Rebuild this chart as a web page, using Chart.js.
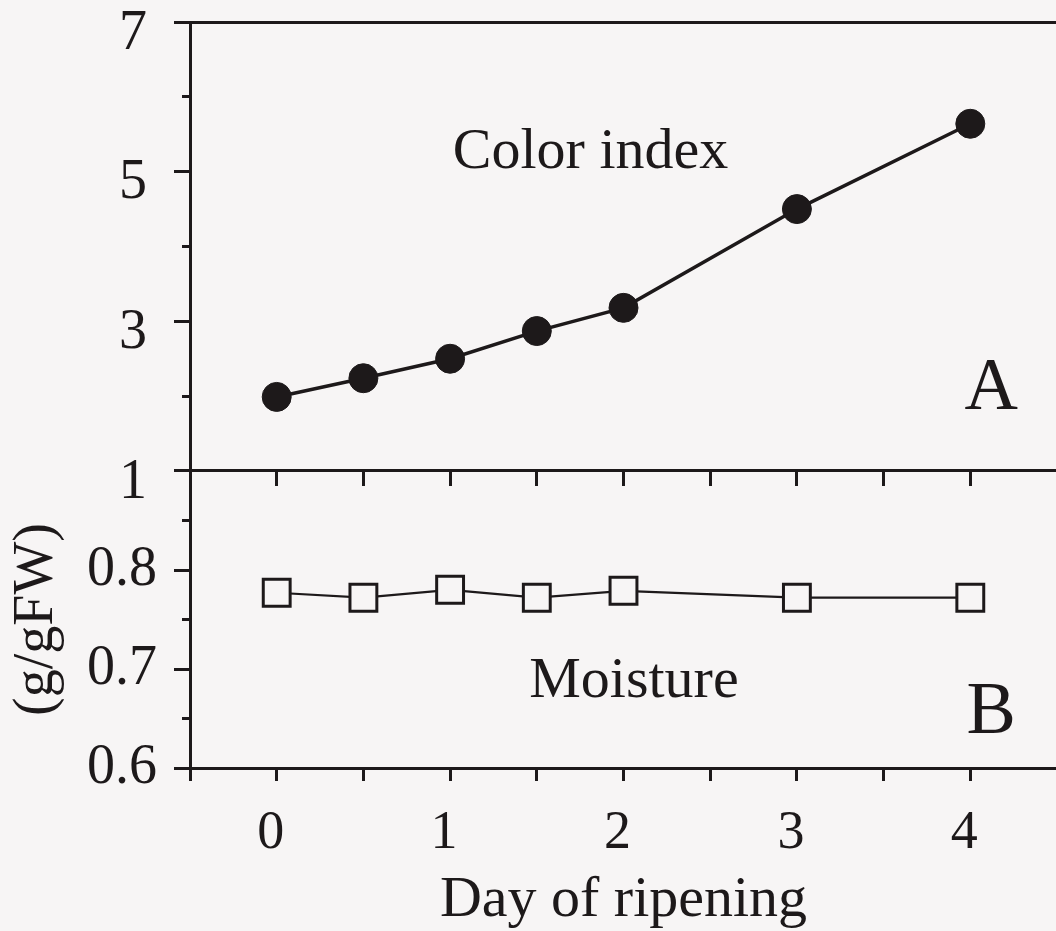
<!DOCTYPE html>
<html>
<head>
<meta charset="utf-8">
<title>Color index and moisture during ripening</title>
<script src="https://cdn.jsdelivr.net/npm/chart.js@4/dist/chart.umd.min.js"></script>
<style>
  html, body { margin: 0; padding: 0; background: #f7f5f5; overflow: hidden; }
  #wrap { position: relative; width: 1056px; height: 931px; overflow: hidden; }
  canvas { display: block; }
</style>
</head>
<body>
<div id="wrap"><canvas id="chart" width="1060" height="931"></canvas></div>
<script>
// Sampling days and measured values
const days = [0, 0.5, 1, 1.5, 2, 3, 4];
const colorIndex = [1.99, 2.24, 2.50, 2.87, 3.18, 4.50, 5.64];
const moisture = [0.777, 0.772, 0.780, 0.772, 0.779, 0.772, 0.772];

// Labelled tick values
const dayTickLabels = [0, 1, 2, 3, 4];
const colorTickLabels = [7, 5, 3, 1];
const moistureTickLabels = [0.8, 0.7, 0.6];

// In-panel captions
const captions = [
  { text: 'Color index', x: 1.81, y: 5.05, axis: 'yA', size: 58 },
  { text: 'A', x: 4.12, y: 1.83, axis: 'yA', size: 74 },
  { text: 'Moisture', x: 2.06, y: 0.672, axis: 'yB', size: 58 },
  { text: 'B', x: 4.12, y: 0.635, axis: 'yB', size: 74 }
];

const INK = '#1d191a';
const PAPER = '#f7f5f5';
const SERIF = "'Liberation Serif', 'Times New Roman', serif";

const near = (a, b) => Math.abs(a - b) < 1e-6;

// Axes here share one frame, so the automatic label overhang padding is dropped
const noOverhang = s => { s.paddingTop = 0; s.paddingBottom = 0; s.paddingLeft = 0; s.paddingRight = 0; };

const captionPlugin = {
  id: 'captions',
  afterDatasetsDraw(chart) {
    const { ctx } = chart;
    const xs = chart.scales.x;
    ctx.save();
    ctx.fillStyle = INK;
    ctx.textAlign = 'center';
    ctx.textBaseline = 'alphabetic';
    captions.forEach(c => {
      ctx.font = c.size + 'px ' + SERIF;
      ctx.fillText(c.text, xs.getPixelForValue(c.x), chart.scales[c.axis].getPixelForValue(c.y));
    });
    ctx.restore();
  }
};

const dayAxisBase = {
  type: 'linear',
  min: -0.5,
  max: 4.5,
  ticks: { stepSize: 0.5, autoSkip: false, maxRotation: 0 },
  grid: { drawOnChartArea: false, tickLength: 13, tickWidth: 3, tickColor: INK },
  border: { color: INK, width: 3 }
};

new Chart(document.getElementById('chart'), {
  type: 'line',
  data: {
    datasets: [
      {
        label: 'Color index',
        data: days.map((d, i) => ({ x: d, y: colorIndex[i] })),
        xAxisID: 'x',
        yAxisID: 'yA',
        borderColor: INK,
        borderWidth: 3.5,
        pointStyle: 'circle',
        pointRadius: 14.5,
        pointBackgroundColor: INK,
        pointBorderColor: INK,
        pointBorderWidth: 1,
        tension: 0
      },
      {
        label: 'Moisture',
        data: days.map((d, i) => ({ x: d, y: moisture[i] })),
        xAxisID: 'x',
        yAxisID: 'yB',
        borderColor: INK,
        borderWidth: 2.2,
        pointStyle: 'rect',
        pointRadius: 19,
        pointBackgroundColor: PAPER,
        pointBorderColor: INK,
        pointBorderWidth: 3,
        tension: 0
      }
    ]
  },
  options: {
    responsive: false,
    devicePixelRatio: 1,
    animation: false,
    events: [],
    layout: { autoPadding: false, padding: { top: 22, right: 3, bottom: 0, left: 0 } },
    plugins: { legend: { display: false }, tooltip: { enabled: false } },
    scales: {
      x: {
        ...dayAxisBase,
        position: 'bottom',
        ticks: {
          ...dayAxisBase.ticks,
          color: INK,
          padding: 20,
          labelOffset: -6,
          font: { family: SERIF, size: 54 },
          callback: v => dayTickLabels.some(t => near(t, v)) ? String(Math.round(v)) : ''
        },
        title: {
          display: true,
          text: 'Day of ripening',
          color: INK,
          font: { family: SERIF, size: 58, lineHeight: 1 },
          padding: { top: 0, bottom: 1 }
        },
        afterFit: s => { s.height = 163; noOverhang(s); }
      },
      xMid: {
        ...dayAxisBase,
        axis: 'x',
        position: { yA: 1 },
        ticks: { ...dayAxisBase.ticks, display: false },
        grid: { ...dayAxisBase.grid, tickLength: 14 },
        afterFit: s => { s.height = 0; noOverhang(s); }
      },
      xTop: {
        ...dayAxisBase,
        axis: 'x',
        position: 'top',
        ticks: { ...dayAxisBase.ticks, display: false },
        grid: { drawOnChartArea: false, drawTicks: false },
        afterFit: s => { s.height = 0; noOverhang(s); }
      },
      yA: {
        type: 'linear',
        position: 'left',
        stack: 'panels',
        stackWeight: 449,
        weight: 1,
        min: 1,
        max: 7,
        ticks: {
          stepSize: 1,
          autoSkip: false,
          color: INK,
          padding: 27,
          labelOffset: 12,
          font: { family: SERIF, size: 56 },
          callback: v => colorTickLabels.some(t => near(t, v)) ? String(v) : ''
        },
        grid: {
          drawOnChartArea: false,
          tickLength: 16,
          tickWidth: 3,
          tickColor: INK,
          tickBorderDash: c => (c.tick && colorTickLabels.some(t => near(t, c.tick.value))) ? [] : [0, 8, 40]
        },
        border: { color: INK, width: 3 },
        afterFit: s => { s.width = 190; noOverhang(s); }
      },
      yB: {
        type: 'linear',
        position: 'left',
        stack: 'panels',
        stackWeight: 297,
        weight: 0,
        min: 0.6,
        max: 0.9,
        ticks: {
          stepSize: 0.05,
          autoSkip: false,
          color: INK,
          padding: 17,
          font: { family: SERIF, size: 56 },
          callback: v => moistureTickLabels.some(t => near(t, v)) ? (Math.round(v * 10) / 10).toString() : ''
        },
        grid: {
          drawOnChartArea: false,
          tickLength: 16,
          tickWidth: 3,
          tickColor: INK,
          tickBorderDash: c => (c.tick && Math.round(c.tick.value * 100) % 10 === 0) ? [] : [0, 8, 40]
        },
        border: { color: INK, width: 3 },
        title: {
          display: true,
          text: '(g/gFW)',
          color: INK,
          font: { family: SERIF, size: 56, lineHeight: 1 },
          padding: { top: 9, bottom: 0 }
        },
        afterFit: s => { s.width = 190; noOverhang(s); }
      },
      yR: {
        type: 'linear',
        position: 'right',
        min: 0,
        max: 1,
        ticks: { display: false },
        grid: { drawOnChartArea: false, drawTicks: false },
        border: { color: INK, width: 3 },
        afterFit: s => { s.width = 0; noOverhang(s); }
      }
    }
  },
  plugins: [captionPlugin]
});
</script>
</body>
</html>
